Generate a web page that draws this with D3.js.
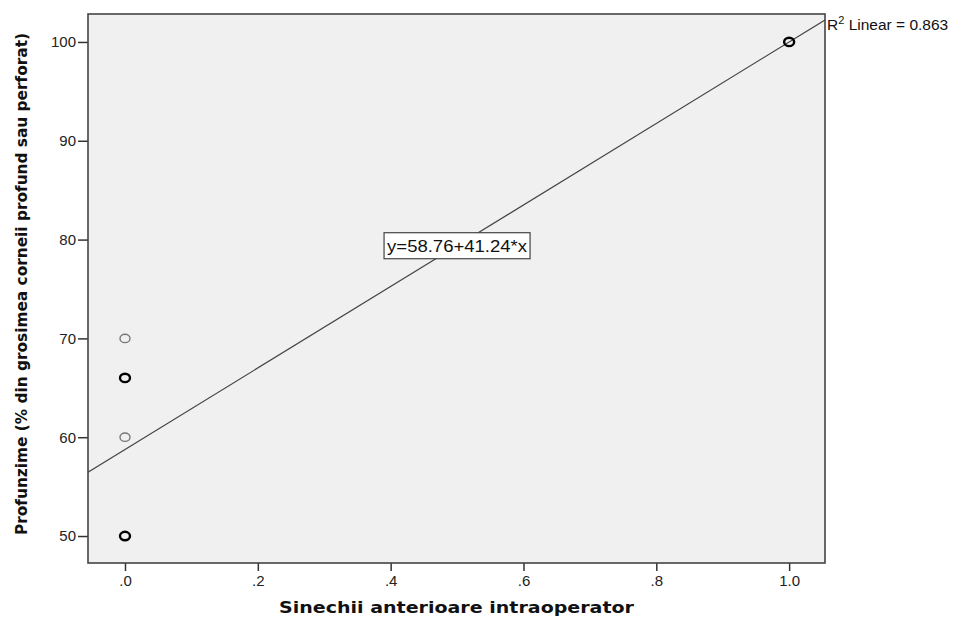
<!DOCTYPE html>
<html>
<head>
<meta charset="utf-8">
<script src="https://cdn.jsdelivr.net/npm/d3@7"></script>
<style>
  html, body { margin: 0; padding: 0; background: #fff; }
  svg { display: block; }
</style>
</head>
<body>
<svg id="chart" width="959" height="621"></svg>
<script>
// Observations: anterior synechiae (0/1) vs. depth (% of corneal thickness)
const xValues = [0, 0, 0, 0, 0, 0, 0, 1, 1];
const yValues = [70, 66, 66, 60, 50, 50, 50, 100, 100];

// Fitted linear model
const intercept = 58.76;
const slope = 41.24;
const rSquared = 0.863;

const xTicks = [0, 0.2, 0.4, 0.6, 0.8, 1.0];
const xTickLabels = [".0", ".2", ".4", ".6", ".8", "1.0"];
const yTicks = [50, 60, 70, 80, 90, 100];

const xTitle = "Sinechii anterioare intraoperator";
const yTitle = "Profunzime (% din grosimea corneii profund sau perforat)";

const svg = d3.select("#chart");
const plot = { left: 88, right: 825, top: 14, bottom: 563 };

const x = d3.scaleLinear().domain([-0.0557, 1.054]).range([plot.left, plot.right]);
const y = d3.scaleLinear().domain([47.27, 102.83]).range([plot.bottom, plot.top]);

// plot background
svg.append("rect")
  .attr("x", plot.left).attr("y", plot.top)
  .attr("width", plot.right - plot.left).attr("height", plot.bottom - plot.top)
  .attr("fill", "#f0f0f0");

svg.append("clipPath").attr("id", "plotClip")
  .append("rect")
  .attr("x", plot.left).attr("y", plot.top)
  .attr("width", plot.right - plot.left).attr("height", plot.bottom - plot.top);

// axes
const xAxis = d3.axisBottom(x).tickValues(xTicks)
  .tickFormat((d, i) => xTickLabels[i]).tickSize(8).tickPadding(4);
const yAxis = d3.axisLeft(y).tickValues(yTicks)
  .tickFormat(d3.format("d")).tickSize(10).tickPadding(2);

const gx = svg.append("g").attr("transform", `translate(0,${plot.bottom})`).call(xAxis);
const gy = svg.append("g").attr("transform", `translate(${plot.left},0)`).call(yAxis);
[gx, gy].forEach(g => {
  g.select(".domain").remove();
  g.selectAll(".tick line").attr("stroke", "#333").attr("stroke-width", 1.5);
  g.selectAll(".tick text")
    .attr("fill", "#222")
    .style("font-family", "'Liberation Sans', Arial, sans-serif")
    .style("font-size", "15px");
});

// regression line
const fit = d => intercept + slope * d;
const [x0, x1] = x.domain();
svg.append("line")
  .attr("clip-path", "url(#plotClip)")
  .attr("x1", x(x0)).attr("y1", y(fit(x0)))
  .attr("x2", x(x1)).attr("y2", y(fit(x1)))
  .attr("stroke", "#444").attr("stroke-width", 1.2);

// points: coincident observations drawn heavier
const counts = d3.rollup(xValues.map((d, i) => [d, yValues[i]]), v => v.length, p => p[0] + "|" + p[1]);
const pts = Array.from(counts, ([k, n]) => {
  const [a, b] = k.split("|").map(Number);
  return { x: a, y: b, n };
});
svg.append("g").selectAll("ellipse").data(pts).join("ellipse")
  .attr("cx", d => x(d.x)).attr("cy", d => y(d.y))
  .attr("rx", 5).attr("ry", 4.2)
  .attr("fill", "none")
  .attr("stroke", d => d.n > 1 ? "#000" : "#777")
  .attr("stroke-width", d => d.n > 1 ? 2.4 : 1.4);

// equation label, centred on the fitted line at x = 0.5
const eqX = x(0.5), eqY = y(fit(0.5));
svg.append("rect")
  .attr("x", eqX - 73).attr("y", eqY - 13)
  .attr("width", 146).attr("height", 26)
  .attr("fill", "#fff").attr("stroke", "#444").attr("stroke-width", 1.2);
svg.append("text")
  .attr("x", eqX).attr("y", eqY + 6)
  .attr("text-anchor", "middle")
  .attr("textLength", 140).attr("lengthAdjust", "spacingAndGlyphs")
  .style("font-family", "'Liberation Sans', Arial, sans-serif")
  .style("font-size", "16px").attr("fill", "#111")
  .text(`y=${intercept.toFixed(2)}+${slope.toFixed(2)}*x`);

// R² annotation at the right end of the line
const r2 = svg.append("text")
  .attr("x", plot.right + 2).attr("y", 30)
  .style("font-family", "'Liberation Sans', Arial, sans-serif")
  .style("font-size", "15.5px").attr("fill", "#111");
r2.append("tspan").text("R");
r2.append("tspan").attr("dy", -6).style("font-size", "11px").text("2");
r2.append("tspan").attr("dy", 6).text(` Linear = ${rSquared.toFixed(3)}`);

// plot frame
svg.append("rect")
  .attr("x", plot.left).attr("y", plot.top)
  .attr("width", plot.right - plot.left).attr("height", plot.bottom - plot.top)
  .attr("fill", "none").attr("stroke", "#444").attr("stroke-width", 1.6);

// axis titles
svg.append("text")
  .attr("x", (plot.left + plot.right) / 2).attr("y", 613)
  .attr("text-anchor", "middle")
  .attr("textLength", 355).attr("lengthAdjust", "spacingAndGlyphs")
  .style("font-family", "'DejaVu Sans', Verdana, sans-serif")
  .style("font-size", "15px").style("font-weight", "bold").attr("fill", "#111")
  .text(xTitle);

svg.append("text")
  .attr("transform", `translate(27,284) rotate(-90)`)
  .attr("text-anchor", "middle")
  .attr("textLength", 502).attr("lengthAdjust", "spacingAndGlyphs")
  .style("font-family", "'DejaVu Sans', Verdana, sans-serif")
  .style("font-size", "15.5px").style("font-weight", "bold").attr("fill", "#111")
  .text(yTitle);
</script>
</body>
</html>
